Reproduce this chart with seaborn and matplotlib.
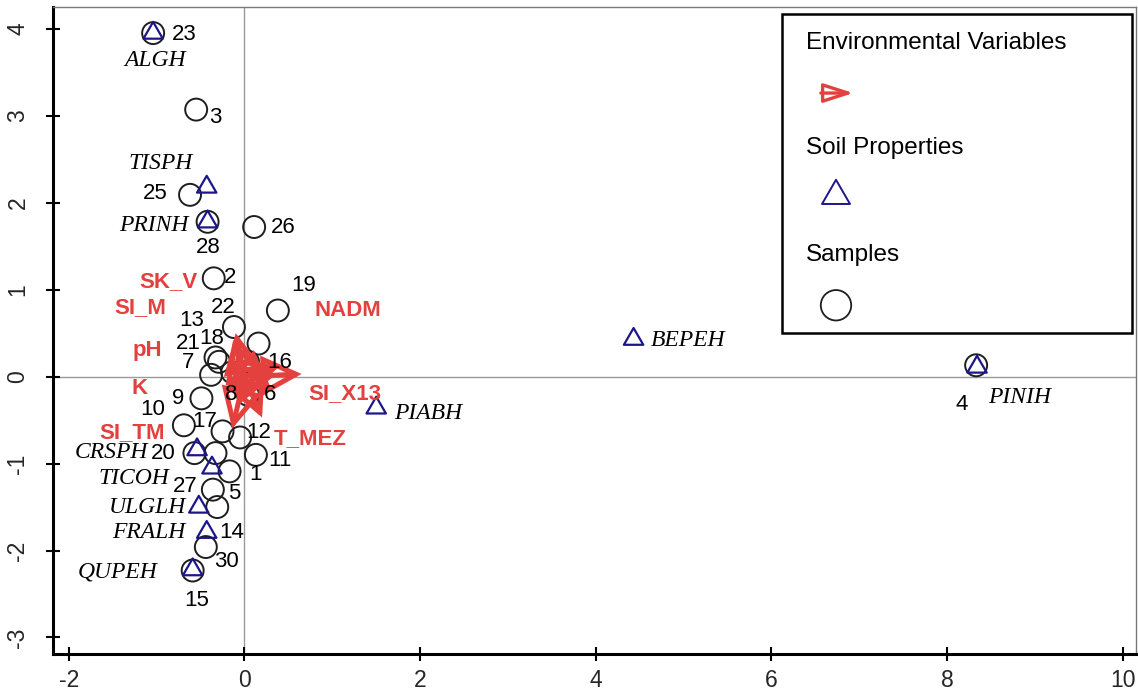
import numpy as np
import pandas as pd
import matplotlib
matplotlib.use("Agg")
import matplotlib.pyplot as plt
import seaborn as sns
from matplotlib.patches import Rectangle
from matplotlib.path import Path

# ---------------- data ----------------
sample_ids = ["23", "3", "25", "28", "26", "2", "19", "22", "16", "18", "21", "13",
              "8", "7", "6", "9", "10", "17", "12", "20", "1", "11", "5", "27",
              "14", "30", "15", "4"]
sample_x = [-1.04, -0.55, -0.62, -0.42, 0.11, -0.35, 0.38, -0.12, 0.16, -0.33, -0.29, 0.04,
            -0.14, -0.38, 0.04, -0.49, -0.69, -0.25, -0.05, -0.57, -0.33, 0.13, -0.17, -0.36,
            -0.31, -0.44, -0.59, 8.33]
sample_y = [3.95, 3.07, 2.09, 1.78, 1.72, 1.13, 0.76, 0.57, 0.38, 0.22, 0.17, 0.17,
            0.05, 0.02, -0.21, -0.25, -0.56, -0.63, -0.70, -0.88, -0.88, -0.90, -1.09, -1.30,
            -1.50, -1.96, -2.23, 0.13]
sample_label_x = [-0.69, -0.33, -1.02, -0.41, 0.44, -0.16, 0.67, -0.24, 0.40, -0.37, -0.64, -0.60,
                  -0.15, -0.64, 0.29, -0.76, -1.04, -0.45, 0.16, -0.92, 0.13, 0.40, -0.12, -0.68,
                  -0.14, -0.20, -0.54, 8.16]
sample_label_y = [3.93, 2.98, 2.11, 1.49, 1.71, 1.14, 1.05, 0.79, 0.16, 0.44, 0.38, 0.65,
                  -0.21, 0.16, -0.21, -0.25, -0.38, -0.52, -0.64, -0.88, -1.13, -0.96, -1.34, -1.26,
                  -1.79, -2.13, -2.57, -0.32]

species = ["ALGH", "TISPH", "PRINH", "BEPEH", "PINIH", "PIABH",
           "CRSPH", "TICOH", "ULGLH", "FRALH", "QUPEH"]
species_x = [-1.04, -0.43, -0.42, 4.43, 8.34, 1.50, -0.54, -0.37, -0.52, -0.43, -0.59]
species_y = [3.95, 2.18, 1.78, 0.43, 0.11, -0.36, -0.84, -1.05, -1.50, -1.79, -2.22]
species_label_x = [-1.02, -0.96, -1.03, 5.05, 8.83, 2.09, -1.51, -1.26, -1.10, -1.09, -1.44]
species_label_y = [3.64, 2.45, 1.74, 0.41, -0.24, -0.42, -0.87, -1.17, -1.50, -1.79, -2.25]

env_vars = ["SK_V", "SI_M", "NADM", "pH", "K", "SI_X13", "SI_TM", "T_MEZ"]
env_x = [-0.10, -0.13, 0.40, -0.16, -0.22, 0.65, -0.14, 0.20]
env_y = [0.50, 0.42, 0.12, 0.20, -0.10, 0.03, -0.60, -0.47]
env_label_x = [-0.87, -1.19, 1.18, -1.11, -1.20, 1.14, -1.28, 0.75]
env_label_y = [1.09, 0.79, 0.76, 0.30, -0.14, -0.19, -0.64, -0.71]

x_ticks = [-2, 0, 2, 4, 6, 8, 10]
y_ticks = [-3, -2, -1, 0, 1, 2, 3, 4]
legend_titles = ["Environmental Variables", "Soil Properties", "Samples"]

# ---------------- style ----------------
RED = "#e3403e"
NAVY = "#1c168a"
CIRC = "#1e1e1e"
sns.set_style("ticks")
plt.rcParams["font.family"] = ["Liberation Sans", "DejaVu Sans"]

fig = plt.figure(figsize=(11.38, 6.93), dpi=100)
ax = fig.add_axes([53 / 1138, 1 - 654 / 693, 1083 / 1138, 647 / 693])
ax.set_xlim(-2.18, 10.15)
ax.set_ylim(-3.19, 4.25)

ax.axhline(0, color="#9a9a9a", lw=1.0, zorder=0)
ax.axvline(0, color="#9a9a9a", lw=1.0, zorder=0)

samples_df = pd.DataFrame({"x": sample_x, "y": sample_y, "id": sample_ids})
species_df = pd.DataFrame({"x": species_x, "y": species_y, "name": species})

sns.scatterplot(data=samples_df, x="x", y="y", ax=ax, marker="o", s=250,
                facecolors="none", edgecolor=CIRC, linewidth=1.4, zorder=3, legend=False)

tri = Path([(-1, -0.577), (1, -0.577), (0, 1.155), (-1, -0.577)],
           [Path.MOVETO, Path.LINETO, Path.LINETO, Path.CLOSEPOLY])
sns.scatterplot(data=species_df, x="x", y="y", ax=ax, marker=tri, s=260,
                facecolors="none", edgecolor=NAVY, linewidth=1.6, zorder=4, legend=False)

# environmental arrows (short vectors from origin)
for ex, ey in zip(env_x, env_y):
    ax.annotate("", xy=(ex, ey), xytext=(0, 0),
                arrowprops=dict(arrowstyle="-|>,head_length=0.9,head_width=0.45",
                                ec=RED, fc="none", lw=3.6, shrinkA=0, shrinkB=0,
                                mutation_scale=26, joinstyle="miter"),
                zorder=5)

for t, lx, ly in zip(sample_ids, sample_label_x, sample_label_y):
    ax.text(lx, ly, t, ha="center", va="center", fontsize=16, color="black", zorder=6)

for t, lx, ly in zip(species, species_label_x, species_label_y):
    ax.text(lx, ly, t, ha="center", va="center", fontsize=17, color="black",
            family=["Liberation Serif", "DejaVu Serif"], style="italic", zorder=6)

for t, lx, ly in zip(env_vars, env_label_x, env_label_y):
    ax.text(lx, ly, t, ha="center", va="center", fontsize=16, color=RED,
            fontweight="bold", zorder=6)

# axes styling
ax.set_xticks(x_ticks)
ax.set_yticks(y_ticks)
ax.set_xticklabels([str(v) for v in x_ticks], fontsize=16.5)
ax.set_yticklabels([str(v) for v in y_ticks], fontsize=16.5, rotation=90, va="center")
ax.tick_params(axis="both", direction="inout", length=10, width=1.5, color="black")
ax.tick_params(axis="x", pad=6)
ax.tick_params(axis="y", pad=12)
ax.set_xlabel("")
ax.set_ylabel("")
for side in ["left", "bottom"]:
    ax.spines[side].set_linewidth(2.2)
    ax.spines[side].set_color("black")
for side in ["top", "right"]:
    ax.spines[side].set_visible(True)
    ax.spines[side].set_linewidth(1.0)
    ax.spines[side].set_color("#777777")

# legend box (manual, R style)
ax.add_patch(Rectangle((0.673, 0.496), 0.3233, 0.493, transform=ax.transAxes,
                       fill=True, facecolor="white", edgecolor="black", lw=1.8, zorder=10))
title_y = [0.944, 0.782, 0.617]
for t, ty in zip(legend_titles, title_y):
    ax.text(0.695, ty, t, transform=ax.transAxes, ha="left", va="center",
            fontsize=17.5, color="black", zorder=11)
ax.annotate("", xy=(0.739, 0.867), xytext=(0.709, 0.867), xycoords="axes fraction",
            arrowprops=dict(arrowstyle="-|>,head_length=1.3,head_width=0.42",
                            ec=RED, fc="none", lw=2.4, shrinkA=0, shrinkB=0,
                            mutation_scale=14), zorder=11)
ax.scatter([0.723], [0.708], transform=ax.transAxes, marker=tri, s=540,
           facecolors="none", edgecolors=NAVY, linewidths=1.4, zorder=11)
ax.scatter([0.723], [0.539], transform=ax.transAxes, marker="o", s=480,
           facecolors="none", edgecolors=CIRC, linewidths=1.3, zorder=11)

fig.savefig("out.png", dpi=100)
